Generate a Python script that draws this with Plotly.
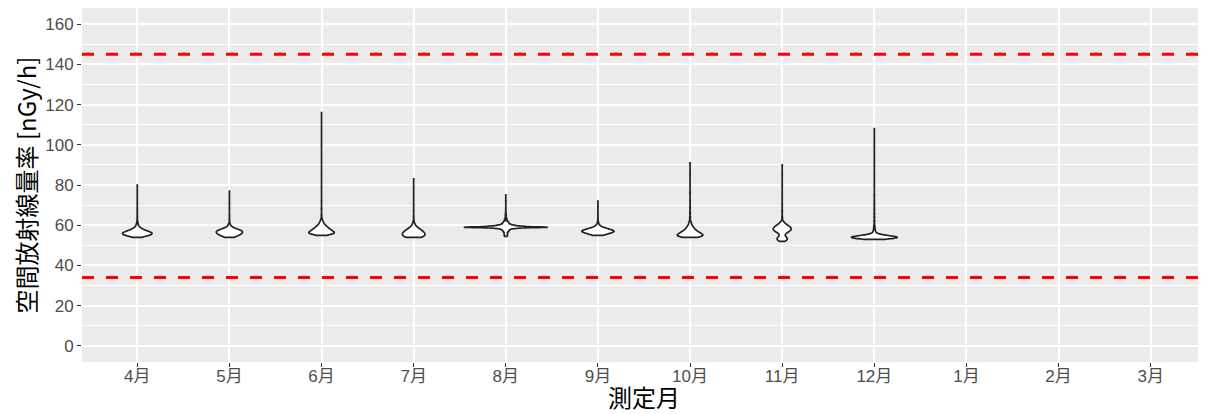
import numpy as np
import plotly.graph_objects as go

months = ["4月", "5月", "6月", "7月", "8月", "9月", "10月", "11月", "12月", "1月", "2月", "3月"]

apr_vals = [54, 55, 56, 57, 58, 59, 60, 61, 62, 64, 66, 68, 71, 74, 77, 80]
apr_counts = [50, 160, 200, 140, 70, 30, 15, 8, 5, 3, 2, 2, 1, 1, 1, 1]
may_vals = [54, 55, 56, 57, 58, 59, 60, 61, 63, 65, 68, 71, 74, 77]
may_counts = [60, 120, 160, 170, 110, 40, 15, 6, 3, 2, 1, 1, 1, 1]
jun_vals = [55, 56, 57, 58, 59, 60, 61, 62, 63, 65, 68, 72, 78, 85, 92, 100, 108, 116]
jun_counts = [60, 180, 150, 110, 80, 50, 30, 18, 10, 5, 3, 2, 1, 1, 1, 1, 1, 1]
jul_vals = [54, 55, 56, 57, 58, 59, 60, 61, 62, 64, 67, 70, 74, 78, 83]
jul_counts = [90, 120, 120, 100, 70, 40, 20, 10, 5, 3, 2, 1, 1, 1, 1]
aug_vals = [54.5, 55, 55.5, 56, 56.5, 57, 57.5, 58, 58.5, 59, 59.5, 60, 60.5, 61, 61.5, 62, 63, 64, 65, 66, 67, 68, 70, 72, 75]
aug_counts = [8, 12, 12, 12, 15, 20, 25, 35, 80, 300, 120, 60, 35, 25, 20, 15, 10, 6, 4, 3, 2, 1, 1, 1, 1]
sep_vals = [55, 56, 57, 58, 59, 60, 61, 62, 64, 66, 69, 72]
sep_counts = [60, 150, 220, 150, 60, 20, 8, 4, 2, 1, 1, 1]
oct_vals = [54, 55, 56, 57, 58, 59, 60, 61, 62, 64, 66, 69, 72, 76, 80, 85, 91]
oct_counts = [100, 170, 130, 90, 60, 40, 25, 15, 10, 6, 4, 3, 2, 2, 1, 1, 1]
nov_vals = [52, 53, 54, 55, 56, 57, 58, 59, 60, 61, 62, 64, 67, 70, 75, 80, 85, 90]
nov_counts = [30, 60, 50, 25, 40, 80, 100, 90, 60, 30, 12, 5, 3, 2, 1, 1, 1, 1]
dec_vals = [53, 53.5, 54, 54.5, 55, 55.5, 56, 57, 58, 59, 60, 62, 64, 66, 68, 70, 72, 75, 80, 85, 90, 95, 100, 108]
dec_counts = [50, 150, 180, 140, 70, 35, 22, 16, 10, 8, 6, 6, 5, 4, 4, 3, 2, 2, 2, 1, 1, 1, 1, 1]

series = [
    ("4月", apr_vals, apr_counts, 0.6),
    ("5月", may_vals, may_counts, 0.6),
    ("6月", jun_vals, jun_counts, 0.6),
    ("7月", jul_vals, jul_counts, 0.6),
    ("8月", aug_vals, aug_counts, 0.2),
    ("9月", sep_vals, sep_counts, 0.6),
    ("10月", oct_vals, oct_counts, 0.6),
    ("11月", nov_vals, nov_counts, 0.6),
    ("12月", dec_vals, dec_counts, 0.5),
]

upper_limit = 145
lower_limit = 34
y_ticks = [0, 20, 40, 60, 80, 100, 120, 140, 160]

font_latin = "Liberation Sans, Arial, Noto Sans CJK JP, sans-serif"
font_cjk = "Noto Sans CJK JP, Liberation Sans, sans-serif"

fig = go.Figure()
for name, vals, counts, bw in series:
    y = np.repeat(np.array(vals, dtype=float), counts)
    fig.add_trace(go.Violin(
        x=[name] * len(y), y=y, name=name,
        scalegroup="all", scalemode="width",
        spanmode="hard", bandwidth=bw, points=False,
        fillcolor="white", line=dict(color="#222222", width=1.7),
        box_visible=False, meanline_visible=False, showlegend=False,
        hoverinfo="skip",
    ))

for yv in (upper_limit, lower_limit):
    fig.add_hline(y=yv, line=dict(color="#FF0000", width=3, dash="12px,12px"), layer="above")

# page body has an 8px margin, so the figure is offset by (8, 8) in the window
fig.update_layout(
    width=1198, height=406,
    margin=dict(l=74, r=0, t=0, b=52, autoexpand=False),
    paper_bgcolor="white", plot_bgcolor="#EBEBEB",
    violinmode="overlay", violingap=0.1, violingroupgap=0,
    font=dict(family=font_latin, color="#4D4D4D", size=17),
    xaxis=dict(
        type="category", categoryorder="array", categoryarray=months,
        range=[-0.6, 11.6], showgrid=True, gridcolor="white", gridwidth=1.6,
        ticks="outside", ticklen=4, tickcolor="#333333", tickwidth=1,
        ticklabelstandoff=-5,
        tickfont=dict(family=font_latin, size=17, color="#4D4D4D"),
        zeroline=False, showline=False, automargin=False,
        title=dict(text="測定月", font=dict(family=font_cjk, size=24, color="black"), standoff=6),
    ),
    yaxis=dict(
        range=[-8, 168], tickmode="array", tickvals=y_ticks,
        showgrid=True, gridcolor="white", gridwidth=1.6,
        minor=dict(dtick=10, showgrid=True, gridcolor="white", gridwidth=0.8),
        ticks="outside", ticklen=4, tickcolor="#333333", tickwidth=1,
        tickfont=dict(family=font_latin, size=17, color="#4D4D4D"),
        zeroline=False, showline=False, automargin=False,
        title=dict(text="空間放射線量率 [nGy/h]", font=dict(family=font_cjk, size=24, color="black"), standoff=10),
    ),
)

fig.write_html("out.html")
